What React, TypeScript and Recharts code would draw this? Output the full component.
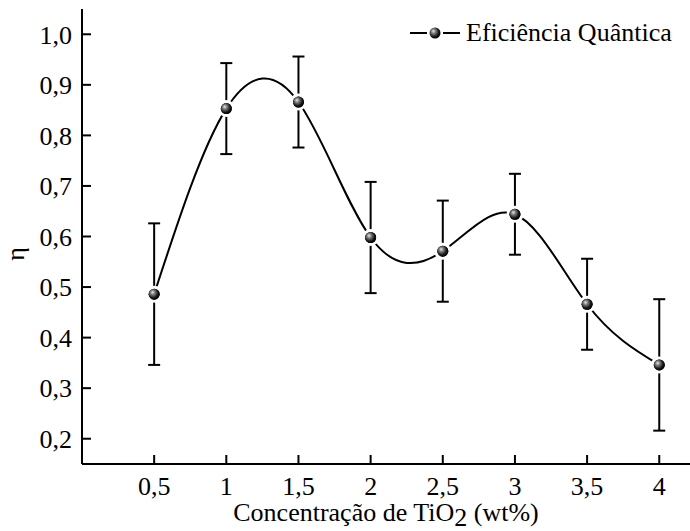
import React from 'react'
import { ComposedChart, Line, Scatter, XAxis, YAxis, ErrorBar, Legend } from 'recharts'

// TiO2 concentration (wt%) vs quantum efficiency
const concentration = [0.5, 1, 1.5, 2, 2.5, 3, 3.5, 4]
const efficiency = [0.486, 0.853, 0.866, 0.598, 0.571, 0.644, 0.466, 0.346]
const errors = [0.14, 0.09, 0.09, 0.11, 0.1, 0.08, 0.09, 0.13]

const xTicks = [0.5, 1, 1.5, 2, 2.5, 3, 3.5, 4]
const xMinorTicks = [0.25, 0.75, 1.25, 1.75, 2.25, 2.75, 3.25, 3.75]
const yTicks = [0.2, 0.3, 0.4, 0.5, 0.6, 0.7, 0.8, 0.9, 1.0]
const yMinorTicks = [0.25, 0.35, 0.45, 0.55, 0.65, 0.75, 0.85, 0.95]

const data = concentration.map((x, i) => ({ x, eta: efficiency[i], err: errors[i] }))

const FONT = '"Liberation Serif", "Times New Roman", serif'
const black = { stroke: '#000', strokeWidth: 2 }

const fmtX = (v: number) => String(v).replace('.', ',')
const fmtY = (v: number) => v.toFixed(1).replace('.', ',')

const SphereGradient = ({ id }: { id: string }) => (
  <defs>
    <radialGradient id={id} cx="40%" cy="40%" r="60%" fx="35%" fy="32%">
      <stop offset="0%" stopColor="#e8e8e8" />
      <stop offset="35%" stopColor="#7a7a7a" />
      <stop offset="75%" stopColor="#1a1a1a" />
      <stop offset="100%" stopColor="#000" />
    </radialGradient>
  </defs>
)

const Sphere = (props: any) => (
  <g>
    <circle cx={props.cx} cy={props.cy} r={5.5} fill="#000" />
    <circle cx={props.cx} cy={props.cy} r={5.5} fill="url(#sphereLegend)" />
  </g>
)

// white gap round each symbol, then the symbol
const Dot = (props: any) => (
  <g key={props.index}>
    <circle cx={props.cx} cy={props.cy} r={8.5} fill="#fff" />
    <Sphere cx={props.cx} cy={props.cy} />
  </g>
)

const LegendContent = () => (
  <div style={{ display: 'flex', alignItems: 'center', fontFamily: FONT, fontSize: 26, color: '#000', lineHeight: '30px' }}>
    <svg width={58} height={30}>
      <SphereGradient id="sphereLegend" />
      <line x1={2} y1={15} x2={19} y2={15} {...black} />
      <line x1={35} y1={15} x2={52} y2={15} {...black} />
      <circle cx={27} cy={15} r={5.5} fill="url(#sphereLegend)" />
    </svg>
    <span>Eficiência Quântica</span>
  </div>
)

export default function App() {
  return (
    <div style={{ position: 'absolute', left: 0, top: 0, width: 690, height: 531, overflow: 'hidden', background: '#fff' }}>
      <ComposedChart width={693} height={531} data={data} margin={{ top: 9, right: 2, left: 0, bottom: 0 }}>
        <SphereGradient id="sphere" />
        <XAxis xAxisId="minor" type="number" dataKey="x" domain={[0, 4.22]} ticks={xMinorTicks} interval={0}
          height={0} tickSize={-5} tick={false} axisLine={false} tickLine={black} allowDataOverflow />
        <XAxis xAxisId="main" type="number" dataKey="x" domain={[0, 4.22]} ticks={xTicks} interval={0}
          height={67} tickSize={-9} tickMargin={22} tickFormatter={fmtX}
          tick={{ fill: '#000', fontSize: 26, fontFamily: FONT }} axisLine={black} tickLine={black} allowDataOverflow />
        <XAxis xAxisId="topMinor" orientation="top" type="number" dataKey="x" domain={[0, 4.22]} ticks={xMinorTicks} interval={0}
          height={0} tickSize={-6} tick={false} axisLine={false} tickLine={black} allowDataOverflow />
        <XAxis xAxisId="top" orientation="top" type="number" dataKey="x" domain={[0, 4.22]} ticks={xTicks} interval={0}
          height={0} tickSize={-7} tick={false} axisLine={black} tickLine={black} allowDataOverflow />
        <YAxis yAxisId="minor" type="number" domain={[0.15, 1.05]} ticks={yMinorTicks} interval={0}
          width={0} tickSize={-5} tick={false} axisLine={false} tickLine={black} allowDataOverflow />
        <YAxis yAxisId="main" type="number" domain={[0.15, 1.05]} ticks={yTicks} interval={0}
          width={82} tickSize={-9} tickMargin={19} tickFormatter={fmtY}
          tick={{ fill: '#000', fontSize: 26, fontFamily: FONT }} axisLine={black} tickLine={black} allowDataOverflow />
        <YAxis yAxisId="rightMinor" orientation="right" type="number" domain={[0.15, 1.05]} ticks={yMinorTicks} interval={0}
          width={0} tickSize={-4} tick={false} axisLine={false} tickLine={black} allowDataOverflow />
        <YAxis yAxisId="right" orientation="right" type="number" domain={[0.15, 1.05]} ticks={yTicks} interval={0}
          width={0} tickSize={-6} tick={false} axisLine={false} tickLine={black} allowDataOverflow />
        <Legend content={LegendContent} layout="horizontal" verticalAlign="middle" align="center"
          wrapperStyle={{ left: 408, top: 18, width: 290 }} />
        <Line xAxisId="main" yAxisId="main" type="natural" dataKey="eta" stroke="#000" strokeWidth={2}
          dot={Dot} activeDot={false} isAnimationActive={false} legendType="none" />
        <Scatter xAxisId="main" yAxisId="main" dataKey="eta" shape={Sphere} isAnimationActive={false} legendType="none">
          <ErrorBar dataKey="err" direction="y" width={6} stroke="#000" strokeWidth={2} isAnimationActive={false} />
        </Scatter>
        <text x={24} y={254} transform="rotate(-90 24 254)" textAnchor="middle" fontFamily={FONT} fontSize={26} fill="#000">η</text>
        <text x={386} y={521} textAnchor="middle" fontFamily={FONT} fontSize={26} fill="#000">
          Concentração de TiO<tspan dy={5}>2</tspan><tspan dy={-5}> (wt%)</tspan>
        </text>
      </ComposedChart>
    </div>
  )
}
